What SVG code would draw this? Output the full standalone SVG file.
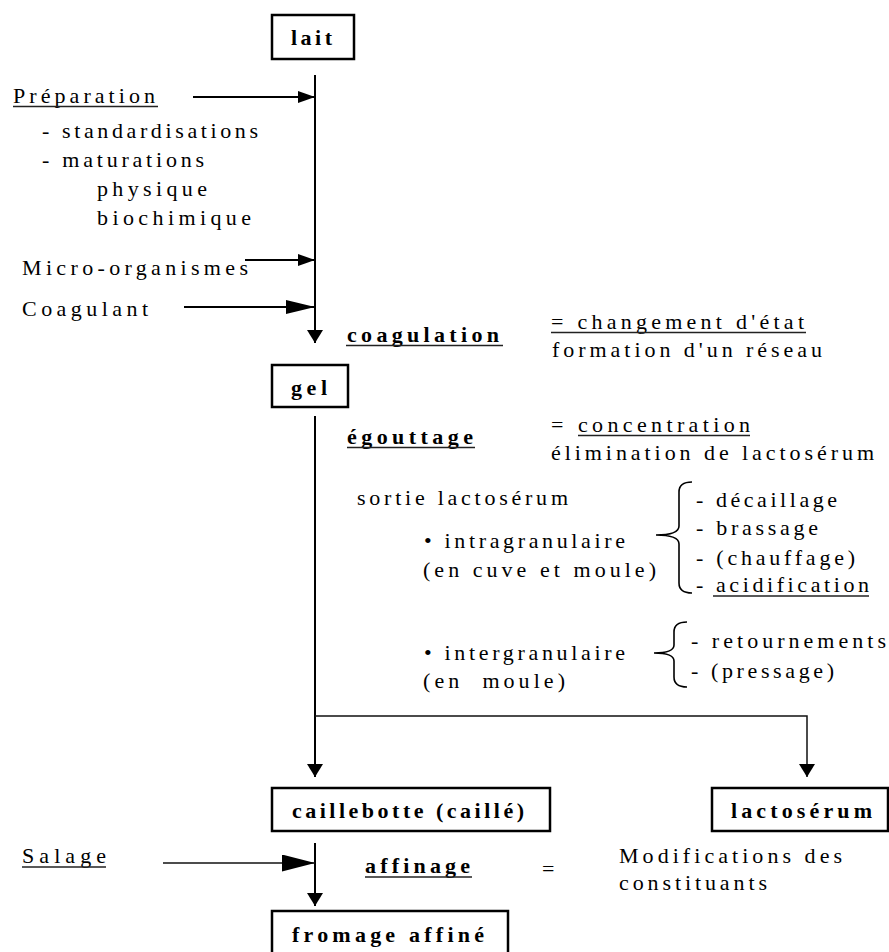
<svg xmlns="http://www.w3.org/2000/svg" width="889" height="952" viewBox="0 0 889 952">
<defs>
<style>
.t{font-family:"Liberation Serif","Times New Roman",serif;font-size:22px;fill:#000}
.b{font-family:"Liberation Serif","Times New Roman",serif;font-size:22px;font-weight:bold;fill:#000}
.box{fill:#fff;stroke:#000;stroke-width:2.5}
.ln{stroke:#000;stroke-width:2;fill:none}
.thin{stroke:#111;stroke-width:1.5;fill:none}
.ul{stroke:#222;stroke-width:1.3}
.brace{stroke:#000;stroke-width:1.6;fill:none}
</style>
<marker id="aSmall" markerUnits="userSpaceOnUse" markerWidth="17" markerHeight="12" refX="17" refY="6" orient="auto"><path d="M0,0 L17,6 L0,12 z" fill="#000"/></marker>
<marker id="aDown" markerUnits="userSpaceOnUse" markerWidth="13" markerHeight="16" refX="13" refY="8" orient="auto"><path d="M0,0 L13,8 L0,16 z" fill="#000"/></marker>
<marker id="aMed" markerUnits="userSpaceOnUse" markerWidth="29" markerHeight="14" refX="29" refY="7" orient="auto"><path d="M0,0 L29,7 L0,14 z" fill="#000"/></marker>
<marker id="aBig" markerUnits="userSpaceOnUse" markerWidth="33" markerHeight="17" refX="33" refY="8.5" orient="auto"><path d="M0,0 L33,8.5 L0,17 z" fill="#000"/></marker>
</defs>
<rect width="889" height="952" fill="#fff"/>

<g id="connectors">
<line class="ln" x1="315" y1="75" x2="315" y2="343" marker-end="url(#aDown)"/>
<line class="ln" x1="193" y1="97" x2="315" y2="97" marker-end="url(#aSmall)"/>
<line class="ln" x1="245" y1="260" x2="315" y2="260" marker-end="url(#aSmall)"/>
<line class="ln" x1="184" y1="307" x2="315" y2="307" marker-end="url(#aMed)"/>
<line class="ln" x1="315" y1="416" x2="315" y2="777" marker-end="url(#aDown)"/>
<polyline class="thin" points="315,716 807,716 807,777" marker-end="url(#aDown)"/>
<line class="ln" x1="315" y1="843" x2="315" y2="906" marker-end="url(#aDown)"/>
<line class="thin" x1="163" y1="863" x2="315" y2="863" marker-end="url(#aBig)"/>
</g>

<g id="lait">
<rect class="box" x="272" y="15" width="82" height="44"/>
<text class="b" x="291" y="45" textLength="41">lait</text>
</g>

<g id="preparation">
<text class="t" x="13" y="103" textLength="142">Préparation</text>
<line class="ul" x1="13" y1="106.5" x2="158" y2="106.5"/>
<text class="t" x="42" y="138" textLength="216">- standardisations</text>
<text class="t" x="42" y="167" textLength="162">- maturations</text>
<text class="t" x="97" y="196" textLength="110">physique</text>
<text class="t" x="97" y="225" textLength="154">biochimique</text>
</g>

<g id="micro-organismes">
<text class="t" x="22" y="275" textLength="226">Micro-organismes</text>
</g>

<g id="coagulant">
<text class="t" x="22" y="316" textLength="126">Coagulant</text>
</g>

<g id="coagulation">
<text class="b" x="347" y="342" textLength="152">coagulation</text>
<line class="ul" x1="346" y1="345.5" x2="503" y2="345.5"/>
<text class="t" x="551" y="329" textLength="253">= changement d'état</text>
<line class="ul" x1="551" y1="332.5" x2="806" y2="332.5"/>
<text class="t" x="552" y="357" textLength="270">formation d'un réseau</text>
</g>

<g id="gel">
<rect class="box" x="272" y="365" width="76" height="42"/>
<text class="b" x="291" y="395" textLength="36">gel</text>
</g>

<g id="egouttage">
<text class="b" x="347" y="444" textLength="126">égouttage</text>
<line class="ul" x1="347" y1="447.5" x2="475" y2="447.5"/>
<text class="t" x="551" y="432">=</text>
<text class="t" x="578" y="432" textLength="172">concentration</text>
<line class="ul" x1="578" y1="435.5" x2="750" y2="435.5"/>
<text class="t" x="551" y="460" textLength="323">élimination de lactosérum</text>
</g>

<g id="sortie">
<text class="t" x="357" y="505" textLength="211">sortie lactosérum</text>
<text class="t" x="424" y="548" textLength="201">• intragranulaire</text>
<text class="t" x="423" y="577" textLength="233">(en cuve et moule)</text>
<path class="brace" d="M692,482 Q679,482 679,492 L679,526 Q679,535 656,535 Q679,535 679,544 L679,583 Q679,593 692,593"/>
<text class="t" x="696" y="507" textLength="141">- décaillage</text>
<text class="t" x="696" y="535" textLength="122">- brassage</text>
<text class="t" x="696" y="565" textLength="159">- (chauffage)</text>
<text class="t" x="696" y="592" textLength="173">- acidification</text>
<line class="ul" x1="713" y1="596" x2="869" y2="596"/>
<text class="t" x="424" y="660" textLength="201">• intergranulaire</text>
<text class="t" x="423" y="688" textLength="142" xml:space="preserve">(en  moule)</text>
<path class="brace" d="M687,622 Q674,622 674,632 L674,645 Q674,653 654,653 Q674,653 674,661 L674,677 Q674,687 687,687"/>
<text class="t" x="691" y="648" textLength="195">- retournements</text>
<text class="t" x="691" y="678" textLength="143">- (pressage)</text>
</g>

<g id="caillebotte">
<rect class="box" x="272" y="788" width="278" height="43"/>
<text class="b" x="292" y="818" textLength="232">caillebotte (caillé)</text>
</g>

<g id="lactoserum">
<rect class="box" x="712" y="788" width="176" height="43"/>
<text class="b" x="731" y="818" textLength="141">lactosérum</text>
</g>

<g id="salage">
<text class="t" x="22" y="863" textLength="84">Salage</text>
<line class="ul" x1="22" y1="867" x2="106" y2="867"/>
</g>

<g id="affinage">
<text class="b" x="365" y="873" textLength="105">affinage</text>
<line class="ul" x1="365" y1="877" x2="472" y2="877"/>
<text class="t" x="542" y="876">=</text>
<text class="t" x="619" y="863" textLength="223">Modifications des</text>
<text class="t" x="619" y="890" textLength="148">constituants</text>
</g>

<g id="fromage">
<rect class="box" x="272" y="911" width="236" height="46"/>
<text class="b" x="292" y="942" textLength="192">fromage affiné</text>
</g>
</svg>
